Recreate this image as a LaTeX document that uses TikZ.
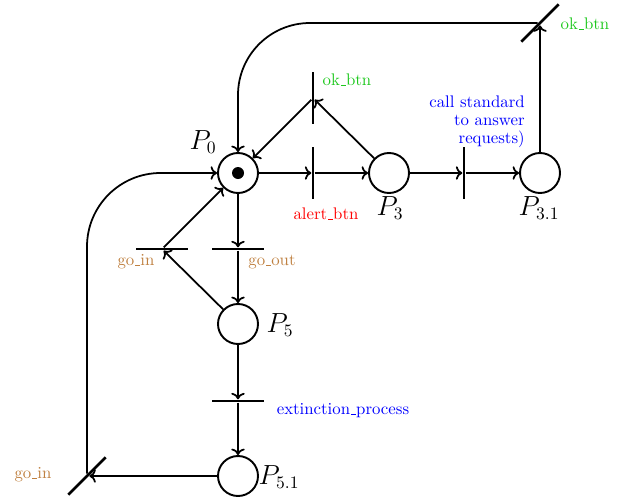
\documentclass[tikz,border=0pt]{standalone}
\usetikzlibrary{arrows.meta}
\definecolor{okgreen}{RGB}{30,200,30}
\definecolor{gobrown}{rgb}{0.75,0.5,0.25}
\newcommand\usc{\leavevmode\kern.06em\vbox{\hrule width.3em}}
\begin{document}
\begin{tikzpicture}[x=0.625pt,y=-0.625pt,
  place/.style={circle,draw,line width=1.2pt,minimum size=25pt,inner sep=0pt},
  tbar/.style={rectangle,fill=black,minimum width=33pt,minimum height=1.7pt,inner sep=0pt},
  arc/.style={->,line width=1.1pt},
  plabel/.style={font=\fontsize{16}{19}\selectfont,inner sep=0pt},
  tlabel/.style={font=\fontsize{10.5}{11.3}\selectfont,inner sep=0pt},
  token/.style={circle,fill=black,minimum size=7.5pt,inner sep=0pt}
]
\useasboundingbox (0,0) rectangle (628,499);
% places
\node[place] (P0) at (238,173) {};
\node[token] (tok0) at (238,173) {};
\node[place] (P3) at (389,173) {};
\node[place] (P31) at (540,173) {};
\node[place] (P5) at (238,324) {};
\node[place] (P51) at (238,476) {};
% transitions
\node[tbar,rotate=90] (talert) at (313,173) {};
\node[tbar,rotate=90] (tok) at (313,98) {};
\node[tbar,rotate=90] (tcall) at (464,173) {};
\node[tbar,rotate=45] (tok2) at (540,23) {};
\node[tbar] (tgin) at (162,249) {};
\node[tbar] (tgout) at (238,249) {};
\node[tbar] (text) at (238,401) {};
\node[tbar,rotate=45] (tgin2) at (87,476) {};
% arcs
\draw[arc] (P0) -- (talert);
\draw[arc] (talert) -- (P3);
\draw[arc] (P3) -- (tok);
\draw[arc] (tok) -- (P0);
\draw[arc] (P3) -- (tcall);
\draw[arc] (tcall) -- (P31);
\draw[arc] (P31) -- (tok2);
\draw[arc,rounded corners=45pt] (tok2) -| (P0);
\draw[arc] (P0) -- (tgout);
\draw[arc] (tgout) -- (P5);
\draw[arc] (P5) -- (tgin);
\draw[arc] (tgin) -- (P0);
\draw[arc] (P5) -- (text);
\draw[arc] (text) -- (P51);
\draw[arc] (P51) -- (tgin2);
\draw[arc,rounded corners=46pt] (tgin2) |- (P0);
% labels
\node[plabel] (lP0) at (203,142) {$P_0$};
\node[tlabel,text=red] (lalert) at (326,214) {alert\usc btn};
\node[plabel] (lP3) at (390,208) {$P_3$};
\node[tlabel,text=okgreen] (lok) at (347,80) {ok\usc btn};
\node[tlabel,text=blue,align=right] (lcall) at (477,122) {call standard\\to answer\\requests)};
\node[plabel] (lP31) at (539,208) {$P_{3.1}$};
\node[tlabel,text=okgreen] (lok2) at (585,24) {ok\usc btn};
\node[tlabel,text=gobrown] (lgin) at (136,262) {go\usc in};
\node[tlabel,text=gobrown] (lgout) at (272,262) {go\usc out};
\node[plabel] (lP5) at (280,325) {$P_5$};
\node[tlabel,text=blue] (lext) at (343,411) {extinction\usc process};
\node[plabel] (lP51) at (279,477) {$P_{5.1}$};
\node[tlabel,text=gobrown] (lgin2) at (33,475) {go\usc in};
\end{tikzpicture}
\end{document}
